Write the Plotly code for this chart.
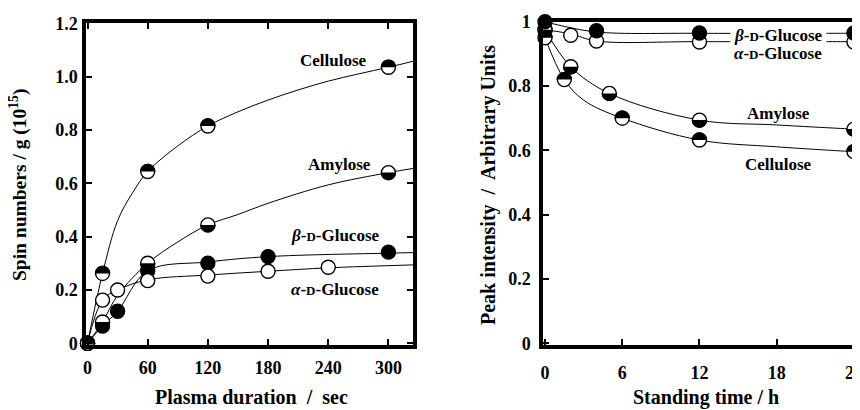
import math
import plotly.graph_objects as go

# ---------------- Left panel: spin numbers vs plasma duration (sec) ----------------
cell_t = [0, 15, 60, 120, 300]
cell_s = [0, 0.262, 0.644, 0.815, 1.035]
amy_t = [0, 15, 60, 120, 300]
amy_s = [0, 0.08, 0.30, 0.444, 0.64]
beta_t = [0, 15, 30, 60, 120, 180, 300]
beta_s = [0, 0.065, 0.12, 0.272, 0.30, 0.325, 0.342]
alpha_t = [0, 15, 30, 60, 120, 180, 240]
alpha_s = [0, 0.162, 0.20, 0.235, 0.252, 0.27, 0.285]

# fitted curves
cell_fit_t = [0, 15, 30, 45, 60, 90, 120, 150, 180, 210, 240, 270, 300, 325]
cell_fit_s = [0, 0.262, 0.46, 0.565, 0.644, 0.74, 0.815, 0.868, 0.912, 0.95, 0.983, 1.01, 1.035, 1.058]
amy_fit_t = [0, 15, 30, 60, 90, 120, 150, 180, 240, 300, 325]
amy_fit_s = [0, 0.08, 0.18, 0.30, 0.38, 0.444, 0.483, 0.525, 0.594, 0.64, 0.656]
beta_fit_t = [0, 15, 30, 60, 120, 180, 300, 325]
beta_fit_s = [0, 0.065, 0.12, 0.272, 0.305, 0.325, 0.338, 0.34]
alpha_fit_t = [0, 15, 30, 60, 120, 180, 240, 325]
alpha_fit_s = [0, 0.162, 0.20, 0.238, 0.256, 0.27, 0.283, 0.294]

# ---------------- Right panel: peak intensity vs standing time (h) ----------------
r_cell_t = [0, 1.5, 6, 12, 24]
r_cell_p = [0.95, 0.82, 0.70, 0.632, 0.596]
r_amy_t = [0, 2, 5, 12, 24]
r_amy_p = [0.975, 0.86, 0.777, 0.694, 0.666]
r_beta_t = [0, 4, 12, 24]
r_beta_p = [1.0, 0.972, 0.965, 0.965]
r_alpha_t = [0, 2, 4, 12, 24]
r_alpha_p = [0.975, 0.958, 0.94, 0.937, 0.937]

r_cell_fit_t = [0, 1.5, 3, 6, 12, 18, 24, 24.6]
r_cell_fit_p = [0.95, 0.82, 0.756, 0.70, 0.632, 0.611, 0.596, 0.595]
r_amy_fit_t = [0, 2, 5, 12, 18, 24, 24.6]
r_amy_fit_p = [0.975, 0.86, 0.777, 0.694, 0.679, 0.666, 0.665]
r_beta_fit_t = [0, 1, 4, 12, 24, 24.6]
r_beta_fit_p = [1.0, 0.99, 0.968, 0.964, 0.964, 0.964]
r_alpha_fit_t = [0, 2, 4, 12, 24, 24.6]
r_alpha_fit_p = [0.975, 0.962, 0.94, 0.938, 0.938, 0.938]

left_xticks = [0, 60, 120, 180, 240, 300]
left_yticks = [0, 0.2, 0.4, 0.6, 0.8, 1.0, 1.2]
left_yticklabels = ["0", "0.2", "0.4", "0.6", "0.8", "1.0", "1.2"]
right_xticks = [0, 6, 12, 18, 24]
right_yticks = [0, 0.2, 0.4, 0.6, 0.8, 1.0]
right_yticklabels = ["0", "0.2", "0.4", "0.6", "0.8", "1"]

FONT = "Liberation Serif"
W, H = 860, 410
OFF = 8  # page body margin: figure is drawn 8px in from the window corner


def fx(px):  # window pixel -> paper x fraction
    return (px - OFF) / W


def fy(py):  # window pixel -> paper y fraction
    return 1 - (py - OFF) / H


fig = go.Figure()


def curve(x, y, xa, ya):
    fig.add_trace(go.Scatter(x=x, y=y, mode="lines", xaxis=xa, yaxis=ya,
                             line=dict(color="black", width=1, shape="spline", smoothing=1.0),
                             hoverinfo="skip", showlegend=False))


def markers(x, y, xa, ya, fill):
    fig.add_trace(go.Scatter(x=x, y=y, mode="markers", xaxis=xa, yaxis=ya, cliponaxis=False,
                             marker=dict(size=14, color=fill, symbol="circle",
                                         line=dict(color="black", width=1.4)),
                             showlegend=False))


for (xa, ya, fits) in [
    ("x", "y", [(cell_fit_t, cell_fit_s), (amy_fit_t, amy_fit_s), (beta_fit_t, beta_fit_s), (alpha_fit_t, alpha_fit_s)]),
    ("x2", "y2", [(r_cell_fit_t, r_cell_fit_p), (r_amy_fit_t, r_amy_fit_p), (r_beta_fit_t, r_beta_fit_p), (r_alpha_fit_t, r_alpha_fit_p)]),
]:
    for cx, cy in fits:
        curve(cx, cy, xa, ya)

markers(beta_t, beta_s, "x", "y", "black")
markers(alpha_t, alpha_s, "x", "y", "white")
markers(amy_t, amy_s, "x", "y", "white")
markers(cell_t, cell_s, "x", "y", "white")
markers(r_alpha_t, r_alpha_p, "x2", "y2", "white")
markers(r_amy_t, r_amy_p, "x2", "y2", "white")
markers(r_cell_t, r_cell_p, "x2", "y2", "white")
markers(r_beta_t, r_beta_p, "x2", "y2", "black")

R = 7.7


def half_path(top):
    pts = []
    n = 18
    for i in range(n + 1):
        a = math.pi * i / n
        if not top:
            a = -a
        pts.append((R * math.cos(a), R * math.sin(a)))
    return "M %.2f,%.2f " % pts[0] + " ".join("L %.2f,%.2f" % p for p in pts[1:]) + " Z"


shapes = []


def halves(xs, ys, xref, yref, top):
    for xv, yv in zip(xs, ys):
        shapes.append(dict(type="path", xref=xref, yref=yref, xsizemode="pixel", ysizemode="pixel",
                           xanchor=xv, yanchor=yv, path=half_path(top),
                           fillcolor="black", line=dict(width=0), layer="above"))


halves(amy_t, amy_s, "x", "y", False)
halves(cell_t, cell_s, "x", "y", True)
halves(r_amy_t, r_amy_p, "x2", "y2", False)
halves(r_cell_t, r_cell_p, "x2", "y2", True)

tickfont = dict(family=FONT, size=18, color="black", weight="bold")
axis_common = dict(showgrid=False, zeroline=False, showline=True, linecolor="black", linewidth=3.5,
                   ticks="inside", ticklen=6, tickwidth=1.5, tickcolor="black", tickfont=tickfont,
                   automargin=False)

fig.update_layout(
    template="none",
    width=W, height=H, margin=dict(l=0, r=0, t=0, b=0, pad=0, autoexpand=False),
    plot_bgcolor="white", paper_bgcolor="white", showlegend=False,
    shapes=shapes,
    xaxis=dict(domain=[fx(86), fx(413)], range=[-1.5, 324.5], tickvals=left_xticks,
               mirror="allticks", ticklabelstandoff=4, anchor="y", **axis_common),
    yaxis=dict(domain=[fy(344.5), fy(23)], range=[-0.0045, 1.201], tickvals=left_yticks,
               ticktext=left_yticklabels, mirror="allticks", ticklabelstandoff=1, anchor="x", **axis_common),
    xaxis2=dict(domain=[fx(543), fx(860)], range=[-0.155, 24.47], tickvals=right_xticks,
                mirror=True, ticklabelstandoff=9, anchor="y2", **axis_common),
    yaxis2=dict(domain=[fy(344.5), fy(21.7)], range=[-0.0037, 1.0], tickvals=right_yticks,
                ticktext=right_yticklabels, mirror=False, ticklabelstandoff=5, anchor="x2", **axis_common),
)

lab = dict(family=FONT, size=17, color="black", weight="bold")
title_font = dict(family=FONT, size=20, color="black", weight="bold")
D = "<span style='font-size:13px'>D</span>"
annots = [
    dict(text="Cellulose", x=244.8, y=1.062, xref="x", yref="y"),
    dict(text="Amylose", x=251.7, y=0.669, xref="x", yref="y"),
    dict(text="<i>β</i>-" + D + "-Glucose", x=246.8, y=0.406, xref="x", yref="y"),
    dict(text="<i>α</i>-" + D + "-Glucose", x=246.8, y=0.20, xref="x", yref="y"),
    dict(text="<i>β</i>-" + D + "-Glucose", x=18.1, y=0.958, xref="x2", yref="y2", bgcolor="white", borderpad=3),
    dict(text="<i>α</i>-" + D + "-Glucose", x=18.1, y=0.902, xref="x2", yref="y2"),
    dict(text="Amylose", x=18.1, y=0.716, xref="x2", yref="y2"),
    dict(text="Cellulose", x=18.1, y=0.555, xref="x2", yref="y2"),
]
for a in annots:
    fig.add_annotation(showarrow=False, font=lab, xanchor="center", yanchor="middle", **a)

titles = [
    dict(text="Plasma duration  /  sec", x=fx(251), y=fy(397), textangle=0, size=20),
    dict(text="Standing time / h", x=fx(706), y=fy(397), textangle=0, size=20),
    dict(text="Spin numbers / g (10<sup>15</sup>)", x=fx(19), y=fy(185), textangle=-90, size=19.5),
    dict(text="Peak intensity  /  Arbitrary Units", x=fx(489), y=fy(185), textangle=-90, size=20),
]
for t in titles:
    sz = t.pop("size")
    fig.add_annotation(showarrow=False, font=dict(title_font, size=sz), xref="paper", yref="paper",
                       xanchor="center", yanchor="middle", **t)

fig.write_html("out.html")
